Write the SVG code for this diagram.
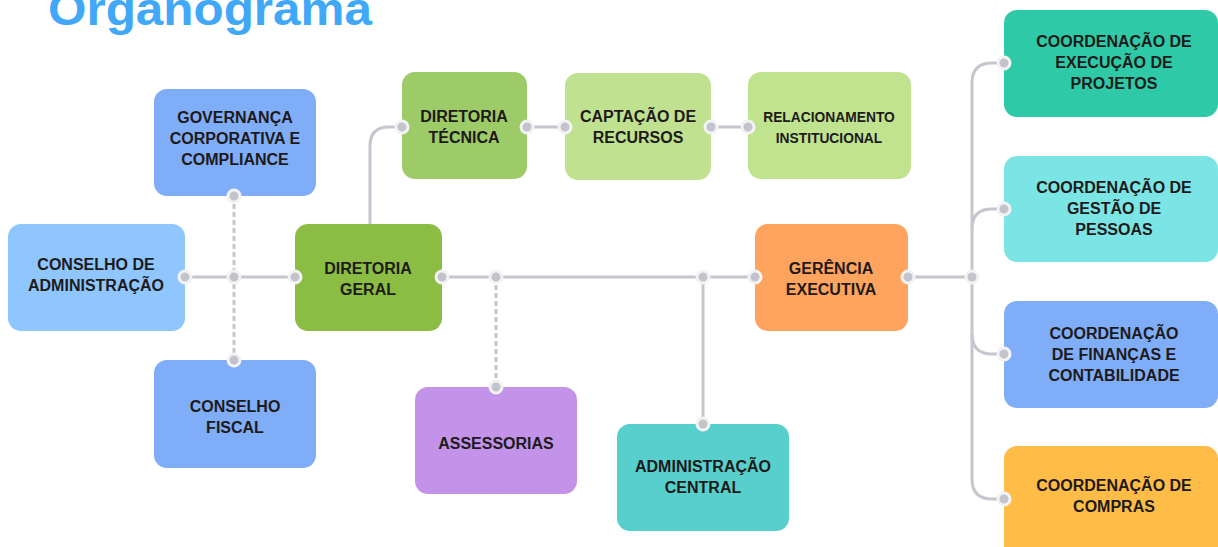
<svg xmlns="http://www.w3.org/2000/svg" width="1218" height="547" viewBox="0 0 1218 547">
<style>
.t{font-family:"Liberation Sans",Arial,sans-serif;font-weight:700;font-size:16px;fill:#1E1A1A;text-anchor:middle}
.s{font-size:13.8px}
.ln{fill:none;stroke:#C6C6CE;stroke-width:3}
.dl{fill:none;stroke:#C6C6CE;stroke-width:3;stroke-dasharray:5 3}
.d{fill:#C3C3CB;stroke:#F3F3F6;stroke-width:3}
</style>
<rect width="1218" height="547" fill="#FFFFFF"/>
<text x="48" y="25" font-family="'Liberation Sans',Arial,sans-serif" font-weight="700" font-size="46" fill="#40A8F6" textLength="324" lengthAdjust="spacingAndGlyphs">Organograma</text>

<g id="governanca">
  <rect x="154" y="89" width="162" height="107" rx="13" fill="#80ADF8"/>
  <text class="t" x="235" y="123">GOVERNANÇA</text>
  <text class="t" x="235" y="144">CORPORATIVA E</text>
  <text class="t" x="235" y="165">COMPLIANCE</text>
</g>
<g id="conselho-adm">
  <rect x="8" y="224" width="177" height="107" rx="13" fill="#8EC6FD"/>
  <text class="t" x="96" y="270">CONSELHO DE</text>
  <text class="t" x="96" y="291">ADMINISTRAÇÃO</text>
</g>
<g id="diretoria-geral">
  <rect x="295" y="224" width="147" height="107" rx="13" fill="#8BBD45"/>
  <text class="t" x="368" y="274">DIRETORIA</text>
  <text class="t" x="368" y="295">GERAL</text>
</g>
<g id="conselho-fiscal">
  <rect x="154" y="360" width="162" height="108" rx="13" fill="#80ADF8"/>
  <text class="t" x="235" y="412">CONSELHO</text>
  <text class="t" x="235" y="433">FISCAL</text>
</g>
<g id="diretoria-tecnica">
  <rect x="402" y="72" width="125" height="107" rx="13" fill="#9DCB68"/>
  <text class="t" x="464" y="122">DIRETORIA</text>
  <text class="t" x="464" y="143">TÉCNICA</text>
</g>
<g id="captacao">
  <rect x="565" y="73" width="146" height="107" rx="13" fill="#C0E290"/>
  <text class="t" x="638" y="122">CAPTAÇÃO DE</text>
  <text class="t" x="638" y="143">RECURSOS</text>
</g>
<g id="relacionamento">
  <rect x="748" y="72" width="163" height="107" rx="13" fill="#C0E390"/>
  <text class="t s" x="829" y="122">RELACIONAMENTO</text>
  <text class="t s" x="829" y="143">INSTITUCIONAL</text>
</g>
<g id="gerencia">
  <rect x="755" y="224" width="153" height="107" rx="13" fill="#FFA45E"/>
  <text class="t" x="831" y="274">GERÊNCIA</text>
  <text class="t" x="831" y="295">EXECUTIVA</text>
</g>
<g id="assessorias">
  <rect x="415" y="387" width="162" height="107" rx="13" fill="#C293E8"/>
  <text class="t" x="496" y="449">ASSESSORIAS</text>
</g>
<g id="adm-central">
  <rect x="617" y="424" width="172" height="107" rx="13" fill="#56CFCD"/>
  <text class="t" x="703" y="472">ADMINISTRAÇÃO</text>
  <text class="t" x="703" y="493">CENTRAL</text>
</g>
<g id="coord-projetos">
  <rect x="1004" y="10" width="214" height="107" rx="13" fill="#2ECAA8"/>
  <text class="t" x="1114" y="47">COORDENAÇÃO DE</text>
  <text class="t" x="1114" y="68">EXECUÇÃO DE</text>
  <text class="t" x="1114" y="89">PROJETOS</text>
</g>
<g id="coord-pessoas">
  <rect x="1004" y="156" width="214" height="106" rx="13" fill="#7BE5E5"/>
  <text class="t" x="1114" y="193">COORDENAÇÃO DE</text>
  <text class="t" x="1114" y="214">GESTÃO DE</text>
  <text class="t" x="1114" y="235">PESSOAS</text>
</g>
<g id="coord-financas">
  <rect x="1004" y="301" width="214" height="107" rx="13" fill="#80ADF8"/>
  <text class="t" x="1114" y="339">COORDENAÇÃO</text>
  <text class="t" x="1114" y="360">DE FINANÇAS E</text>
  <text class="t" x="1114" y="381">CONTABILIDADE</text>
</g>
<g id="coord-compras">
  <rect x="1004" y="446" width="214" height="115" rx="13" fill="#FFBD48"/>
  <text class="t" x="1114" y="491">COORDENAÇÃO DE</text>
  <text class="t" x="1114" y="512">COMPRAS</text>
</g>

<g id="connectors">
  <path class="ln" d="M185 277H295"/>
  <path class="dl" d="M234 196V360"/>
  <path class="ln" d="M442 277H755"/>
  <path class="dl" d="M496 277V387"/>
  <path class="ln" d="M703 277V424"/>
  <path class="ln" d="M370 224V146Q370 127 389 127H402"/>
  <path class="ln" d="M527 127H565"/>
  <path class="ln" d="M711 127H748"/>
  <path class="ln" d="M908 277H972"/>
  <path class="ln" d="M1004 63H992Q972 63 972 83V479Q972 499 992 499H1004"/>
  <path class="ln" d="M1004 209H992Q972 209 972 229"/>
  <path class="ln" d="M1004 354H992Q972 354 972 334"/>
  <circle class="d" cx="185" cy="277" r="6"/>
  <circle class="d" cx="234" cy="277" r="6"/>
  <circle class="d" cx="295" cy="277" r="6"/>
  <circle class="d" cx="234" cy="196" r="6"/>
  <circle class="d" cx="234" cy="360" r="6"/>
  <circle class="d" cx="442" cy="277" r="6"/>
  <circle class="d" cx="496" cy="277" r="6"/>
  <circle class="d" cx="496" cy="387" r="6"/>
  <circle class="d" cx="703" cy="277" r="6"/>
  <circle class="d" cx="703" cy="424" r="6"/>
  <circle class="d" cx="755" cy="277" r="6"/>
  <circle class="d" cx="402" cy="127" r="6"/>
  <circle class="d" cx="527" cy="127" r="6"/>
  <circle class="d" cx="565" cy="127" r="6"/>
  <circle class="d" cx="711" cy="127" r="6"/>
  <circle class="d" cx="748" cy="127" r="6"/>
  <circle class="d" cx="908" cy="277" r="6"/>
  <circle class="d" cx="972" cy="277" r="6"/>
  <circle class="d" cx="1004" cy="63" r="6"/>
  <circle class="d" cx="1004" cy="209" r="6"/>
  <circle class="d" cx="1004" cy="354" r="6"/>
  <circle class="d" cx="1004" cy="499" r="6"/>
</g>
</svg>
